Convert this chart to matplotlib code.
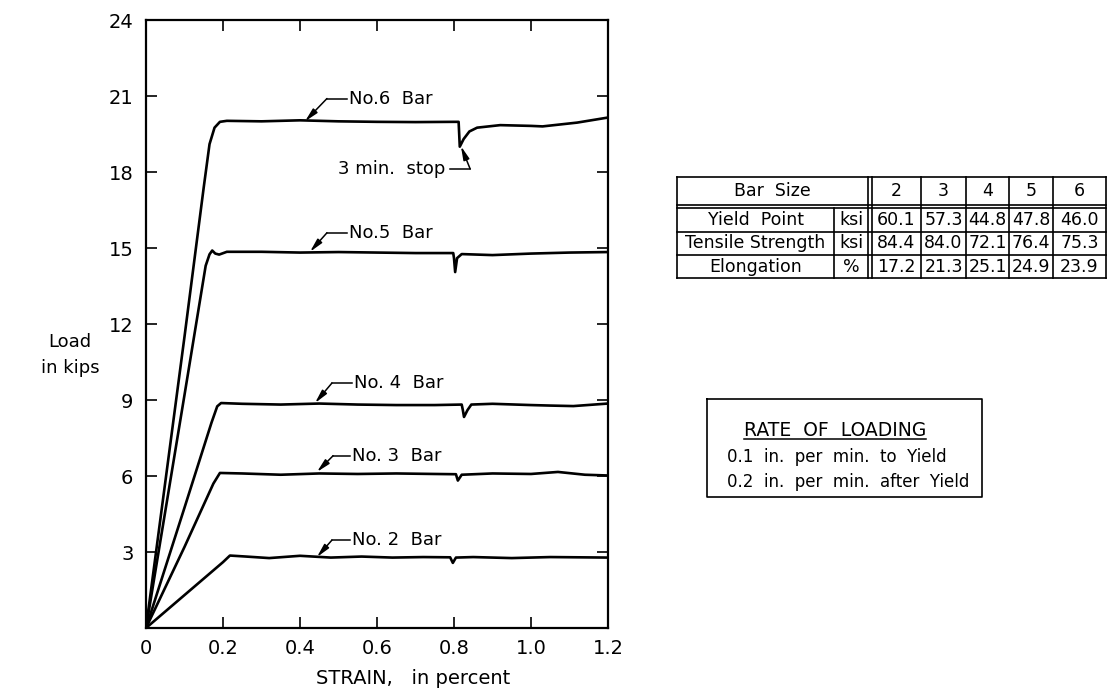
import numpy as np
import matplotlib
matplotlib.use("Agg")
import matplotlib.pyplot as plt

plt.rcParams['font.family'] = ['DejaVu Sans']

# load-strain records, one per bar size (strain in percent, load in kips)
strain_6 = [0, 0.04, 0.10, 0.150, 0.165, 0.178, 0.192, 0.21, 0.30, 0.40, 0.50, 0.60, 0.70,
            0.80, 0.812, 0.815, 0.825, 0.84, 0.86, 0.92, 1.00, 1.03, 1.12, 1.20]
load_6 = [0, 4.6, 11.5, 17.4, 19.1, 19.75, 19.98, 20.02, 20.0, 20.04, 20.0, 19.98, 19.97,
          19.98, 19.98, 19.0, 19.3, 19.6, 19.75, 19.85, 19.82, 19.8, 19.95, 20.15]

strain_5 = [0, 0.05, 0.10, 0.155, 0.165, 0.172, 0.18, 0.19, 0.21, 0.30, 0.40, 0.50, 0.60,
            0.70, 0.798, 0.800, 0.803, 0.808, 0.82, 0.90, 1.00, 1.10, 1.20]
load_5 = [0, 4.6, 9.2, 14.3, 14.75, 14.9, 14.78, 14.74, 14.85, 14.85, 14.82, 14.84, 14.82,
          14.8, 14.8, 14.6, 14.05, 14.6, 14.76, 14.72, 14.78, 14.82, 14.84]

strain_4 = [0, 0.10, 0.170, 0.185, 0.195, 0.25, 0.35, 0.45, 0.55, 0.65, 0.75, 0.82, 0.823,
            0.826, 0.835, 0.845, 0.90, 1.00, 1.05, 1.11, 1.20]
load_4 = [0, 4.75, 8.1, 8.75, 8.88, 8.85, 8.82, 8.86, 8.82, 8.8, 8.8, 8.82, 8.6,
          8.33, 8.6, 8.82, 8.85, 8.8, 8.78, 8.76, 8.86]

strain_3 = [0, 0.10, 0.175, 0.192, 0.25, 0.35, 0.45, 0.55, 0.65, 0.75, 0.805, 0.81, 0.82,
            0.90, 1.00, 1.07, 1.14, 1.20]
load_3 = [0, 3.2, 5.7, 6.12, 6.1, 6.05, 6.1, 6.08, 6.1, 6.08, 6.07, 5.82, 6.05,
          6.1, 6.08, 6.16, 6.05, 6.02]

strain_2 = [0, 0.10, 0.200, 0.218, 0.26, 0.32, 0.40, 0.48, 0.56, 0.64, 0.72, 0.79, 0.797,
            0.805, 0.85, 0.95, 1.05, 1.20]
load_2 = [0, 1.3, 2.6, 2.86, 2.82, 2.76, 2.85, 2.78, 2.82, 2.78, 2.8, 2.79, 2.57,
          2.78, 2.8, 2.76, 2.8, 2.78]

curves = [(strain_6, load_6), (strain_5, load_5), (strain_4, load_4),
          (strain_3, load_3), (strain_2, load_2)]

bar_labels = ["No.6  Bar", "No.5  Bar", "No. 4  Bar", "No. 3  Bar", "No. 2  Bar"]
# arrow tip on curve, bend of leader, end of leader (text starts there)
leaders = [((0.413, 20.0), (0.47, 20.9), (0.522, 20.9)),
           ((0.426, 14.85), (0.47, 15.6), (0.522, 15.6)),
           ((0.439, 8.88), (0.483, 9.67), (0.535, 9.67)),
           ((0.444, 6.16), (0.486, 6.8), (0.53, 6.8)),
           ((0.444, 2.8), (0.483, 3.47), (0.53, 3.47))]

x_ticks = [0, 0.2, 0.4, 0.6, 0.8, 1.0, 1.2]
x_tick_labels = ["0", "0.2", "0.4", "0.6", "0.8", "1.0", "1.2"]
y_ticks = [0, 3, 6, 9, 12, 15, 18, 21, 24]
y_tick_labels = ["", "3", "6", "9", "12", "15", "18", "21", "24"]

bar_sizes = ["2", "3", "4", "5", "6"]
row_names = ["Yield  Point", "Tensile Strength", "Elongation"]
row_units = ["ksi", "ksi", "%"]
yield_point = ["60.1", "57.3", "44.8", "47.8", "46.0"]
tensile_strength = ["84.4", "84.0", "72.1", "76.4", "75.3"]
elongation = ["17.2", "21.3", "25.1", "24.9", "23.9"]
table_rows = [yield_point, tensile_strength, elongation]

W, H = 1113, 693
fig = plt.figure(figsize=(W / 100, H / 100), dpi=100)
ax = fig.add_axes([146 / W, 65 / H, 462 / W, 608 / H])

for s, p in curves:
    ax.plot(s, p, color='black', lw=1.9, solid_joinstyle='round')

arrow = dict(arrowstyle='-|>,head_length=0.8,head_width=0.18',
             color='black', lw=1.1, shrinkA=0, shrinkB=0)
for name, (tip, bend, end) in zip(bar_labels, leaders):
    ax.plot([bend[0], end[0]], [bend[1], end[1]], color='black', lw=1.1)
    ax.annotate('', xy=tip, xytext=bend, arrowprops=arrow)
    ax.text(end[0] + 0.004, end[1], name, fontsize=13, va='center', ha='left')

# hold marker on the No. 6 curve
ax.plot([0.777 + 0.012, 0.842], [18.12, 18.12], color='black', lw=1.1)
ax.annotate('', xy=(0.818, 19.02), xytext=(0.842, 18.12), arrowprops=arrow)
ax.text(0.777, 18.12, "3 min.  stop", fontsize=13, va='center', ha='right')

ax.set_xlim(0, 1.2)
ax.set_ylim(0, 24)
ax.set_xticks(x_ticks, x_tick_labels)
ax.set_yticks(y_ticks, y_tick_labels)
ax.tick_params(direction='in', length=8, width=1.2, labelsize=14,
               top=True, right=True)
ax.tick_params(axis='x', pad=8)
ax.tick_params(axis='y', pad=9)
for sp in ax.spines.values():
    sp.set_linewidth(1.6)

fig.text(70 / W, 1 - 355 / H, "Load\nin kips", fontsize=13, ha='center',
         va='center', linespacing=1.6)
fig.text(413 / W, 1 - 679 / H, "STRAIN,   in percent", fontsize=14,
         ha='center', va='center')

# overlay in pixel units for the table and the loading note
ov = fig.add_axes([0, 0, 1, 1], facecolor='none')
ov.set_xlim(0, W)
ov.set_ylim(H, 0)
ov.axis('off')

col_edges = [677, 834, 872, 921, 966, 1009, 1053, 1106]
row_edges = [177, 208, 232, 255, 278]
lk = dict(color='black', lw=1.2)
for y in row_edges:
    ov.plot([col_edges[0], col_edges[-1]], [y, y], **lk)
ov.plot([col_edges[0], col_edges[-1]], [row_edges[1] - 3, row_edges[1] - 3], **lk)
for i, x in enumerate(col_edges):
    top = row_edges[1] if i == 1 else row_edges[0]
    ov.plot([x, x], [top, row_edges[-1]], **lk)
ov.plot([col_edges[2] - 4, col_edges[2] - 4], [row_edges[0], row_edges[-1]], **lk)

tf = 12.5
ov.text((col_edges[0] + col_edges[2] - 4) / 2, (row_edges[0] + row_edges[1] - 3) / 2,
        "Bar  Size", fontsize=tf, ha='center', va='center')
for j, b in enumerate(bar_sizes):
    ov.text((col_edges[2 + j] + col_edges[3 + j]) / 2, (row_edges[0] + row_edges[1] - 3) / 2,
            b, fontsize=tf, ha='center', va='center')
for i, (name, unit, vals) in enumerate(zip(row_names, row_units, table_rows)):
    yc = (row_edges[1 + i] + row_edges[2 + i]) / 2
    ov.text((col_edges[0] + col_edges[1]) / 2, yc, name, fontsize=tf,
            ha='center', va='center')
    ov.text((col_edges[1] + col_edges[2] - 4) / 2, yc, unit, fontsize=tf,
            ha='center', va='center')
    for j, v in enumerate(vals):
        ov.text((col_edges[2 + j] + col_edges[3 + j]) / 2, yc, v, fontsize=tf,
                ha='center', va='center')

# rate of loading note
ov.plot([707, 982, 982, 707, 707], [399, 399, 497, 497, 399], **lk)
title = ov.text(835, 430, "RATE  OF  LOADING", fontsize=13.5, ha='center', va='center')
ov.text(727, 457, "0.1  in.  per  min.  to  Yield", fontsize=12, ha='left', va='center')
ov.text(727, 482, "0.2  in.  per  min.  after  Yield", fontsize=12, ha='left', va='center')
fig.canvas.draw()
bb = title.get_window_extent().transformed(ov.transData.inverted())
ov.plot([bb.x0, bb.x1], [bb.y0 - 1, bb.y0 - 1], color='black', lw=1.1)

fig.savefig("out.png", dpi=100)
